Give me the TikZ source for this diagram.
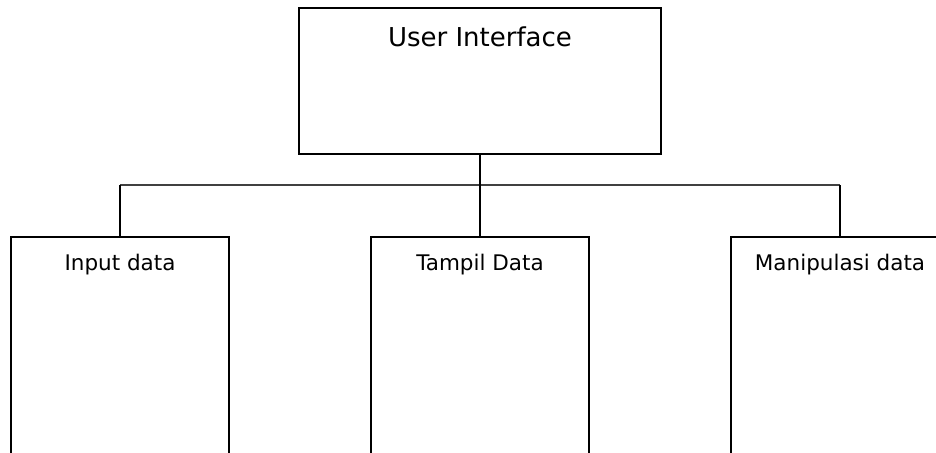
\documentclass[tikz,border=0pt]{standalone}
\usepackage{fontspec}
\setmainfont{DejaVu Sans}
\begin{document}
\begin{tikzpicture}[x=1pt, y=-1pt, box/.style={draw, line width=2pt, inner sep=0pt, anchor=north, text height=33pt, text depth=250pt, minimum width=218pt, font=\fontsize{21.5}{26}\selectfont}, bus/.style={line width=1.6pt, black!75}]
\clip (0,0) rectangle (936,452);
\node[box, minimum width=362pt, text height=38pt, text depth=108pt, font=\fontsize{26}{31}\selectfont] (box0) at (480,7){User Interface};
\node[box] (box1) at (120,236){Input data};
\node[box] (box2) at (480,236){Tampil Data};
\node[box] (box3) at (840,236){Manipulasi data};
\coordinate (bus0) at (120,185);
\coordinate (bus1) at (840,185);
\draw[bus](bus0) -- (bus1);
\draw[line width=2pt](box0.south) -- (box2.north);
\draw[line width=2pt](bus0) -- (box1.north);
\draw[line width=2pt](bus1) -- (box3.north);
\end{tikzpicture}
\end{document}
